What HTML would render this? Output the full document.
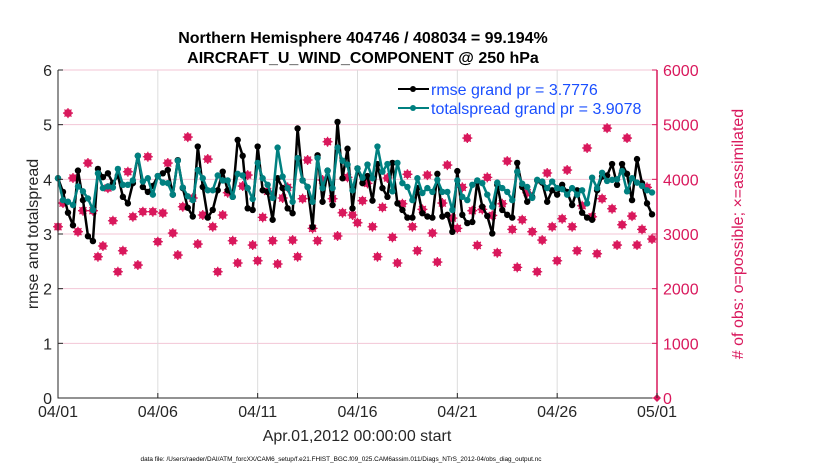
<!DOCTYPE html>
<html><head><meta charset="utf-8"><style>
body{margin:0;background:#fff;}
svg{font-family:"Liberation Sans",sans-serif;display:block;}
</style></head><body>
<svg id="chart" width="830" height="470" viewBox="0 0 830 470"></svg>
<script>
const rmse=[4.02,3.77,3.39,3.16,4.16,3.62,2.96,2.87,4.19,4.04,4.11,3.93,4.07,3.68,3.56,3.93,4.43,3.86,3.77,3.88,4.06,4.11,4.17,3.72,4.35,3.84,3.48,3.32,4.6,3.86,3.3,
3.44,3.8,4.14,3.8,3.68,4.72,4.43,3.47,3.44,4.6,3.8,3.77,3.26,4.02,3.84,3.47,3.38,4.93,3.98,3.86,3.13,4.44,3.59,4.16,3.53,5.05,4.02,4.56,3.47,4.2,
3.93,4.06,3.61,4.28,3.84,3.68,4.3,3.56,3.44,3.3,3.3,3.84,3.38,3.32,3.3,4.1,3.32,3.35,3.04,4.15,3.35,3.2,3.22,3.96,3.5,3.33,3.01,3.9,3.44,3.35,
3.3,4.3,3.86,3.59,3.68,3.98,3.94,3.59,3.8,3.72,3.9,3.77,3.53,3.8,3.39,3.3,3.26,3.8,4.05,4.07,4.28,3.9,4.28,4.1,3.62,4.37,3.93,3.56,3.36];
const spread=[4.02,3.62,3.59,3.53,3.87,3.78,3.65,3.44,4.11,3.84,3.87,3.85,4.19,3.9,3.9,3.98,4.43,3.96,4.02,3.72,4.06,3.94,3.93,3.72,4.34,3.85,3.69,3.62,4.17,4.02,3.8,
3.8,4.07,3.98,3.98,3.68,4.1,4.07,3.84,3.64,4.3,4.02,3.9,3.66,4.58,4.05,3.84,3.59,4.39,3.98,3.86,3.59,4.39,3.84,4.16,3.84,4.58,4.34,4.27,3.8,4.2,
4.03,4.27,4.02,4.6,4.14,4.28,3.78,4.3,3.93,3.86,3.62,4.02,3.75,3.84,3.77,3.99,3.77,3.77,3.44,3.98,3.68,3.62,3.9,3.98,3.93,3.72,3.5,3.94,3.84,3.77,
3.62,4.14,3.92,3.86,3.66,3.99,3.96,3.84,3.96,3.84,3.82,3.72,3.84,3.72,3.8,3.56,4.03,3.84,4.12,3.97,3.99,4.0,4.15,3.78,4.02,3.94,3.88,3.8,3.76];
const obs=[3133,3566,5212,4024,3042,3426,4298,3426,2584,2780,3840,3243,2310,2694,4139,3316,2432,3408,4413,3408,2859,3383,4298,3017,2615,3499,4773,3658,2816,3347,4371,
3133,2310,3347,3755,2877,2469,3877,4078,2798,2511,3304,3780,2877,2451,3658,3853,2889,2584,3646,4353,3103,2877,3987,4688,3646,2963,3389,4036,3347,3206,
3609,3926,3133,2584,3487,4024,2939,2469,3554,4092,3133,2694,3450,4078,3017,2487,3566,4261,3291,3103,3853,4755,3426,2792,3450,4036,3340,2657,3554,4334,
3084,2389,3260,3755,3042,2310,2889,4116,3133,2511,3279,4170,3133,2694,3517,4573,3316,2639,3646,4937,3462,2798,3169,4755,3328,2798,3084,3853,2908,0];
const xTicks=["04/01","04/06","04/11","04/16","04/21","04/26","05/01"];
const yTicks=[0,1,2,3,4,5,6];
const y2Ticks=[0,1000,2000,3000,4000,5000,6000];

const X0=58,X1=657,Y0=398,Y1=70;
const xs=i=>X0+(X1-X0)*i/120;
const ys=v=>Y0-(Y0-Y1)*v/6;
const y2s=v=>Y0-(Y0-Y1)*v/6000;
const svg=document.getElementById('chart');
const NS='http://www.w3.org/2000/svg';
function mk(tag,attrs,parent){const e=document.createElementNS(NS,tag);for(const k in attrs)e.setAttribute(k,attrs[k]);(parent||svg).appendChild(e);return e;}

y2Ticks.forEach(v=>{const l=mk('line',{x1:X0,x2:X1,y1:y2s(v),y2:y2s(v),stroke:'#f3c6d6','stroke-width':1});

});
xTicks.forEach((t,k)=>{const x=xs(k*20);const l=mk('line',{x1:x,x2:x,y1:Y1,y2:Y0,stroke:'#dcdcdc','stroke-width':1});

});

const og=mk('g',{});


obs.forEach((v,i)=>{const x=xs(i),y=y2s(v);const g=mk('g',{},og);


if(v===0){mk('path',{d:`M${x-4} ${y}L${x} ${y-4}L${x+4} ${y}L${x} ${y+4}Z`,fill:'#d9185c'},g);return;}
mk('circle',{cx:x,cy:y,r:3.4,fill:'#d9185c',stroke:'#d9185c','stroke-width':1},g);
mk('path',{d:`M${x-5} ${y}H${x+5}M${x} ${y-5}V${y+5}M${x-3.5} ${y-3.5}L${x+3.5} ${y+3.5}M${x+3.5} ${y-3.5}L${x-3.5} ${y+3.5}`,stroke:'#d9185c','stroke-width':1.3},g);});

function series(arr,color,name){
 const d=arr.map((v,i)=>(i?'L':'M')+xs(i).toFixed(1)+' '+ys(v).toFixed(1)).join('');
 const p=mk('path',{d:d,fill:'none',stroke:color,'stroke-width':2.5,'stroke-linejoin':'round'});
 
 
 arr.forEach((v,i)=>{const c=mk('circle',{cx:xs(i),cy:ys(v),r:3.2,fill:color});
 
 });
}
series(rmse,'#000','rmse');
series(spread,'#008080','totalspread');

const ax=mk('path',{d:`M${X0} ${Y1}V${Y0}H${X1}`,fill:'none',stroke:'#262626','stroke-width':1});


const ax2=mk('line',{x1:X1,x2:X1,y1:Y1,y2:Y0,stroke:'#d9185c','stroke-width':1.5});


yTicks.forEach(v=>{const y=ys(v);mk('line',{x1:X0,x2:X0+5,y1:y,y2:y,stroke:'#262626'});
const t=mk('text',{x:X0-6,y:y+6,'text-anchor':'end','font-size':16,fill:'#262626'});t.textContent=v;

});
y2Ticks.forEach(v=>{const y=y2s(v);mk('line',{x1:X1-5,x2:X1,y1:y,y2:y,stroke:'#d9185c'});
const t=mk('text',{x:X1+6,y:y+6,'font-size':16,fill:'#d9185c'});t.textContent=v;

});
xTicks.forEach((s,k)=>{const x=xs(k*20);mk('line',{x1:x,x2:x,y1:Y0,y2:Y0-5,stroke:'#262626'});
const t=mk('text',{x:x,y:Y0+19,'text-anchor':'middle','font-size':16,fill:'#262626'});t.textContent=s;

});
</script>
<script>
(function(){
const svg=document.getElementById('chart');
svg.insertAdjacentHTML('beforeend',`
<text x="363" y="43" text-anchor="middle" font-size="16" font-weight="bold" fill="#000">Northern Hemisphere 404746 / 408034 = 99.194%</text>
<text x="363" y="63" text-anchor="middle" font-size="16" font-weight="bold" fill="#000">AIRCRAFT_U_WIND_COMPONENT @ 250 hPa</text>
<text transform="translate(38 234) rotate(-90)" text-anchor="middle" font-size="16" fill="#262626">rmse and totalspread</text>
<text transform="translate(743 234) rotate(-90)" text-anchor="middle" font-size="16" fill="#d9185c"># of obs: o=possible; ×=assimilated</text>
<text x="357" y="441" text-anchor="middle" font-size="16" fill="#262626">Apr.01,2012 00:00:00 start</text>
<text x="341" y="461" text-anchor="middle" font-size="6.4" fill="#000">data file: /Users/raeder/DAI/ATM_forcXX/CAM6_setup/f.e21.FHIST_BGC.f09_025.CAM6assim.011/Diags_NTrS_2012-04/obs_diag_output.nc</text>
<g>
<line x1="398" x2="429" y1="89" y2="89" stroke="#000" stroke-width="2"/><circle cx="413" cy="89" r="3" fill="#000"/>
<text x="431" y="95" font-size="16" fill="#1a4fff">rmse grand pr = 3.7776</text>
<line x1="398" x2="429" y1="108" y2="108" stroke="#008080" stroke-width="2"/><circle cx="413" cy="108" r="3" fill="#008080"/>
<text x="431" y="114" font-size="16" fill="#1a4fff">totalspread grand pr = 3.9078</text>
</g>`);
})();
</script>
</body></html>
